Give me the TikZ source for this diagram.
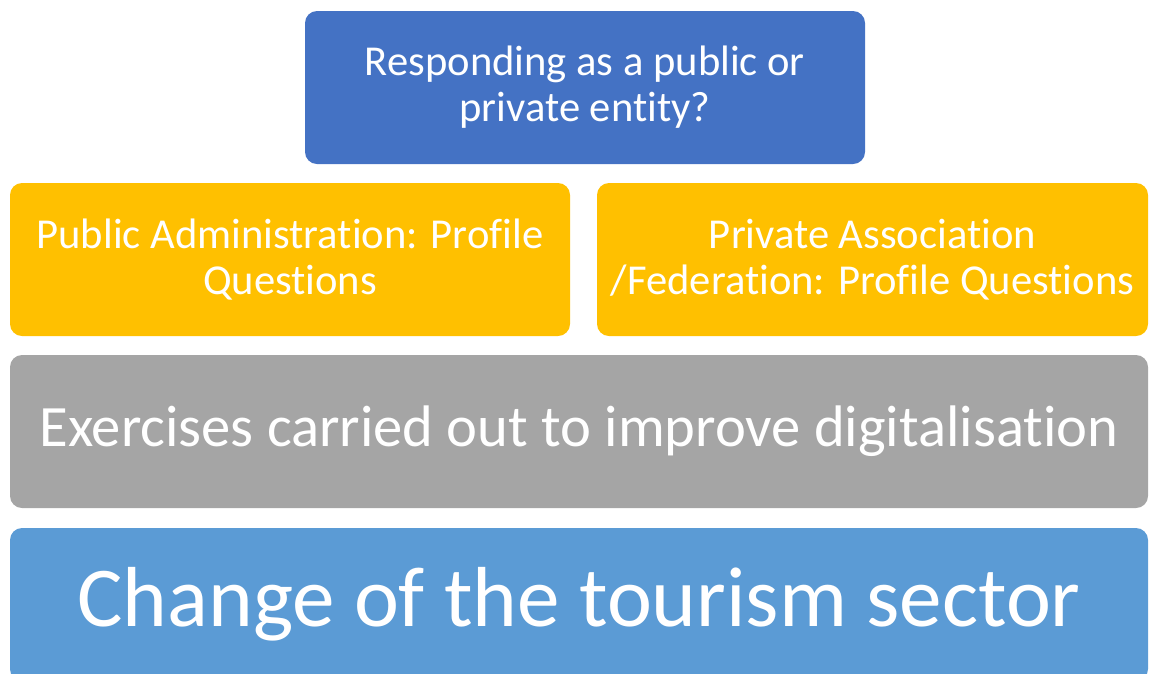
\documentclass[tikz,border=0pt]{standalone}
\usepackage{fontspec}
\setmainfont[Ligatures=CommonOff]{Carlito}
\definecolor{qblue}{HTML}{4472C4}
\definecolor{pgold}{HTML}{FFC000}
\definecolor{egray}{HTML}{A5A5A5}
\definecolor{cblue}{HTML}{5B9BD5}
\tikzset{
    block/.style={rectangle, rounded corners=12pt, inner sep=0pt, align=center,
        text=white, draw=none},
    smalltext/.style={font=\fontsize{42.6}{46}\selectfont},
}
\begin{document}
\begin{tikzpicture}[x=1pt, y=-1pt]
    \useasboundingbox (0,0) rectangle (1151,673);
    \clip (0,0) rectangle (1151,673);
    % question on top
    \node[block, smalltext, fill=qblue, minimum width=560pt, minimum height=153pt] (question) at (585,87.5)
        {Responding as a public or\\private entity?};
    % the two profiles
    \node[block, smalltext, fill=pgold, minimum width=560pt, minimum height=153pt] (public) at (290,259.5)
        {Public Administration: Profile\\Questions};
    \node[block, smalltext, fill=pgold, minimum width=551pt, minimum height=153pt] (private) at (872.5,259.5)
        {Private Association\\/Federation: Profile Questions};
    % exercises
    \node[block, fill=egray, minimum width=1138pt, minimum height=153pt,
        font=\fontsize{58.6}{62}\selectfont] (exercises) at (579,431.5)
        {Exercises carried out to improve digitalisation};
    % change
    \node[block, fill=cblue, minimum width=1138pt, minimum height=153pt,
        font=\fontsize{85.2}{92}\selectfont] (change) at (579,604.5)
        {Change of the tourism sector};
\end{tikzpicture}
\end{document}
